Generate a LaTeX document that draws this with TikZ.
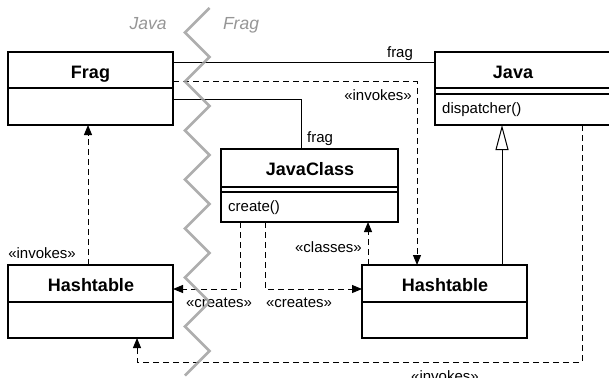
\documentclass[tikz,border=0pt]{standalone}
\usepackage{fontspec}
\setmainfont{Liberation Sans}
\usetikzlibrary{calc,arrows.meta}
\definecolor{zigzaggray}{RGB}{160,160,160}
\definecolor{sidegray}{RGB}{150,150,150}
\tikzset{
  classbox/.style={draw, line width=1.2pt, inner sep=0pt, outer sep=0pt},
  boxline/.style={line width=1.2pt},
  classtitle/.style={font=\bfseries\fontsize{18}{20}\selectfont, anchor=base, inner sep=0pt},
  member/.style={font=\fontsize{15}{17}\selectfont, anchor=base west, inner sep=0pt},
  lbl/.style={font=\fontsize{15}{17}\selectfont, inner sep=0pt},
  sidelbl/.style={font=\itshape\fontsize{17.5}{19}\selectfont, text=sidegray, anchor=base, inner sep=0pt},
  assoc/.style={line width=1pt},
  dep/.style={line width=1pt, dash pattern=on 6pt off 4pt,
    -{Triangle[length=10pt,width=8pt]}},
  gen/.style={line width=1pt, -{Triangle[open,length=25pt,width=13pt,line width=1pt]}},
  zigzag/.style={draw=zigzaggray, line width=2.5pt, opacity=0.85},
}
\begin{document}
\begin{tikzpicture}[x=1pt,y=-1pt]
\useasboundingbox (0,0) rectangle (609,377);

% class boxes
\node[classbox, minimum width=165pt, minimum height=73pt] (frag) at (90.5,88.5) {};
\node[classbox, minimum width=175pt, minimum height=73pt] (java) at (522.5,88.5) {};
\node[classbox, minimum width=177pt, minimum height=73pt] (jc) at (309.5,185.5) {};
\node[classbox, minimum width=165pt, minimum height=73pt] (htl) at (90.5,301.5) {};
\node[classbox, minimum width=165pt, minimum height=73pt] (htr) at (444.5,301.5) {};

% compartment dividers
\draw[boxline] ($(frag.north west)+(0,36)$) -- ($(frag.north east)+(0,36)$);
\draw[boxline] ($(java.north west)+(0,36)$) -- ($(java.north east)+(0,36)$);
\draw[boxline] ($(java.north west)+(0,42)$) -- ($(java.north east)+(0,42)$);
\draw[boxline] ($(jc.north west)+(0,38)$) -- ($(jc.north east)+(0,38)$);
\draw[boxline] ($(jc.north west)+(0,43)$) -- ($(jc.north east)+(0,43)$);
\draw[boxline] ($(htl.north west)+(0,37)$) -- ($(htl.north east)+(0,37)$);
\draw[boxline] ($(htr.north west)+(0,37)$) -- ($(htr.north east)+(0,37)$);

% class names and operations
\node[classtitle] (fragT) at (90.5,79) {Frag};
\node[classtitle] (javaT) at (513,79) {Java};
\node[classtitle] (jcT) at (310,175) {JavaClass};
\node[classtitle] (htlT) at (91,291) {Hashtable};
\node[classtitle] (htrT) at (445,291) {Hashtable};
\node[member] (javaOp) at (442,113) {dispatcher()};
\node[member] (jcOp) at (228,211) {create()};

% attachment points of the connectors
\coordinate (fj1) at ($(frag.north east)+(0,11)$);
\coordinate (fj2) at ($(java.north west)+(0,11)$);
\coordinate (fc1) at ($(frag.north east)+(0,47)$);
\coordinate (fc2) at ($(jc.north west)+(80,0)$);
\coordinate (fi1) at ($(frag.north east)+(0,30)$);
\coordinate (fi2) at ($(htr.north west)+(55,0)$);
\coordinate (g1) at ($(htr.north west)+(140,0)$);
\coordinate (ji1) at ($(java.south west)+(147,0)$);
\coordinate (ji2) at ($(htl.south west)+(129,0)$);
\coordinate (li1) at ($(htl.north west)+(80,0)$);
\coordinate (cl1) at ($(jc.south west)+(19,0)$);
\coordinate (cr1) at ($(jc.south west)+(44,0)$);
\coordinate (cs1) at ($(htr.north west)+(6,0)$);

% associations
\draw[assoc] (fj1) -- (fj2);
\draw[assoc] (fc1) -| (fc2);

% generalization
\draw[gen] (g1) -- (g1 |- java.south);

% dependencies
\draw[dep] (fi1) -| (fi2);
\draw[dep] (ji1) |- ($(ji2)+(0,24)$) -- (ji2);
\draw[dep] (li1) -- (li1 |- frag.south);
\draw[dep] (cl1) |- ($(htl.north east)+(0,24)$);
\draw[dep] (cr1) |- ($(htr.north west)+(0,24)$);
\draw[dep] (cs1) -- (cs1 |- jc.south);

% connector labels
\node[lbl, anchor=base] (lFrag1) at (400,58) {frag};
\node[lbl, anchor=base west] (lFrag2) at (307,142) {frag};
\node[lbl, anchor=base east] (lInv1) at (412,100) {«invokes»};
\node[lbl, anchor=base east] (lInv2) at (76,258) {«invokes»};
\node[lbl, anchor=base] (lInv3) at (445,381) {«invokes»};
\node[lbl, anchor=base] (lCre1) at (219,307) {«creates»};
\node[lbl, anchor=base] (lCre2) at (299,307) {«creates»};
\node[lbl, anchor=base east] (lCls) at (362,252) {«classes»};

% package boundary
\node[sidelbl] (sideJava) at (148,30) {Java};
\node[sidelbl] (sideFrag) at (241,30) {Frag};
\draw[zigzag] (209.5,8) -- (185,32.5) -- (209.5,57) -- (185,81.5) -- (209.5,106)
  -- (185,130.5) -- (209.5,155) -- (185,179.5) -- (209.5,204) -- (185,228.5)
  -- (209.5,253) -- (185,277.5) -- (209.5,302) -- (185,326.5) -- (209.5,351)
  -- (185,375.5);
\end{tikzpicture}
\end{document}
